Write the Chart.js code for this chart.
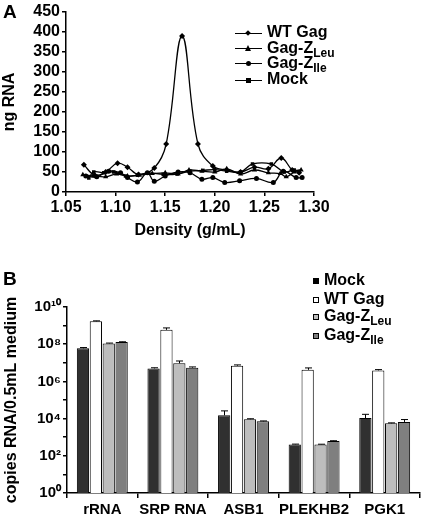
<!DOCTYPE html>
<html>
<head>
<meta charset="utf-8">
<script src="https://cdn.jsdelivr.net/npm/chart.js@4.4.1/dist/chart.umd.min.js"></script>
<style>
  html, body { margin:0; padding:0; background:#fff; }
  body { width:422px; height:517px; position:relative; overflow:hidden;
         font-family:"Liberation Sans", Arial, sans-serif; font-weight:bold; color:#000; }
  canvas { position:absolute; left:0; }
  .panel { position:absolute; font-size:19px; line-height:19px; }
  .row { position:absolute; font-size:16px; line-height:16px; white-space:nowrap; }
  .sub { font-size:12px; position:relative; top:4px; }
  .lineSample { position:absolute; height:0; border-top:1px solid #000; width:27px; }
  .mk { position:absolute; }
  .sq { position:absolute; width:4px; height:4px; border:1px solid #000; }
</style>
</head>
<body>
<canvas id="chartA" width="422" height="250" style="top:0"></canvas>
<canvas id="chartB" width="422" height="267" style="top:250px"></canvas>

<div class="panel" style="left:3px;top:2px">A</div>
<div class="panel" style="left:3px;top:269px">B</div>

<div id="legA"></div>
<div id="legB"></div>

<script>
// ---------- Panel A data ----------
const wtDensity  = [1.068,1.079,1.090,1.102,1.112,1.123,1.139,1.151,1.167,1.183,1.198,1.212,1.226,1.240,1.254,1.267,1.278,1.285];
const wtRNA      = [68,   42,   50,   72,   62,   44,   60,   120,  390,  120,  65,   55,   50,   62,   58,   85,   55,   48];
const leuDensity = [1.067,1.078,1.090,1.101,1.112,1.124,1.137,1.150,1.163,1.174,1.187,1.200,1.212,1.226,1.240,1.254,1.266,1.272,1.280,1.287];
const leuRNA     = [43,   40,   38,   45,   40,   42,   46,   48,   45,   55,   52,   50,   58,   45,   55,   48,   46,   38,   50,   55];
const ileDensity = [1.070,1.081,1.093,1.105,1.112,1.122,1.132,1.139,1.150,1.163,1.175,1.187,1.198,1.210,1.225,1.242,1.259,1.269,1.282,1.288];
const ileRNA     = [40,   38,   52,   48,   36,   25,   48,   27,   40,   50,   48,   32,   36,   24,   28,   34,   24,   52,   36,   36];
const mockDensity= [1.073,1.078,1.088,1.098,1.110,1.122,1.133,1.148,1.162,1.175,1.188,1.200,1.212,1.226,1.238,1.257,1.270,1.280,1.285];
const mockRNA    = [35,   50,   48,   50,   40,   42,   48,   44,   45,   52,   54,   56,   52,   50,   70,   70,   50,   55,   52];
const xTicksA = [1.05,1.10,1.15,1.20,1.25,1.30];
const yTicksA = [0,50,100,150,200,250,300,350,400,450];
const seriesNamesA = ['WT Gag','Gag-Z','Gag-Z','Mock'];
const seriesSubsA  = ['','Leu','Ile',''];

// ---------- Panel B data ----------
const categoriesB = ['rRNA','SRP RNA','ASB1','PLEKHB2','PGK1'];
const mockCopies = [6e7,   5e6,   1.5e4, 410,   1.07e4];
const wtCopies   = [1.7e9, 5.9e8, 7e6,   4.2e6, 3.9e6];
const leuCopies  = [1.1e8, 9.4e6, 9.2e3, 410,   5.6e3];
const ileCopies  = [1.3e8, 5.5e6, 7.1e3, 620,   6.6e3];
const mockErrTop = [6.6e7, 5.4e6, 2.6e4, 425,   1.7e4];
const wtErrTop   = [1.8e9, 7.5e8, 7.7e6, 5.3e6, 4.3e6];
const leuErrTop  = [1.15e8,1.25e7,9.8e3, 420,   5.9e3];
const ileErrTop  = [1.35e8,6e6,   7.5e3, 645,   8.9e3];
const yExpB = [0,1,2,3,4,5,6,7,8,9,10];
const seriesNamesB = ['Mock','WT Gag','Gag-Z','Gag-Z'];
const seriesSubsB  = ['','','Leu','Ile'];

const zip = (xs, ys) => xs.map((x,i) => ({x:x, y:ys[i]}));

Chart.defaults.font.family = '"Liberation Sans", Arial, sans-serif';
Chart.defaults.font.weight = 'bold';
Chart.defaults.color = '#000';

function lineDs(label, pts, style, r) {
  return { label, data: pts, showLine: true, tension: 0.4,
    borderColor:'#000', borderWidth:1.3, backgroundColor:'#000',
    pointStyle: style, pointRadius: r, pointBorderWidth:0, pointBackgroundColor:'#000' };
}

new Chart(document.getElementById('chartA'), {
  type: 'scatter',
  data: { datasets: [
    lineDs('WT Gag', zip(wtDensity, wtRNA), 'rectRot', 3),
    lineDs('Gag-Z Leu', zip(leuDensity, leuRNA), 'triangle', 3),
    lineDs('Gag-Z Ile', zip(ileDensity, ileRNA), 'circle', 2.5),
    lineDs('Mock', zip(mockDensity, mockRNA), 'rect', 2.5)
  ]},
  options: {
    responsive:false, animation:false, devicePixelRatio:1,
    layout:{ padding:{ top:12, right:108, left:0, bottom:0 } },
    plugins:{ legend:{display:false}, tooltip:{enabled:false} },
    scales:{
      x:{ type:'linear', min:1.05, max:1.30,
        afterBuildTicks: s => { s.ticks = xTicksA.map(v => ({value:v})); },
        ticks:{ callback: v => Number(v).toFixed(2), font:{size:16, weight:'bold'}, color:'#000', padding:2, maxRotation:0, autoSkip:false },
        grid:{ display:true, drawOnChartArea:false, drawTicks:true, tickLength:4, color:'#000', lineWidth:1.5 },
        border:{ color:'#000', width:1.5 },
        title:{ display:true, text:'Density (g/mL)', font:{size:16, weight:'bold'}, color:'#000', padding:{top:0, bottom:10} },
        afterFit: s => { s.height = 58; }
      },
      y:{ type:'linear', min:0, max:450,
        afterBuildTicks: s => { s.ticks = yTicksA.map(v => ({value:v})); },
        ticks:{ font:{size:16, weight:'bold'}, color:'#000', padding:2, autoSkip:false },
        grid:{ display:true, drawOnChartArea:false, drawTicks:true, tickLength:4, color:'#000', lineWidth:1.5 },
        border:{ color:'#000', width:1.5 },
        title:{ display:true, text:'ng RNA', font:{size:16, weight:'bold'}, color:'#000', padding:{top:0, bottom:0} },
        afterFit: s => { s.width = 66; }
      }
    }
  }
});

const supDigits = {'0':'\u2070','1':'\u00B9','2':'\u00B2','3':'\u00B3','4':'\u2074','5':'\u2075','6':'\u2076','7':'\u2077','8':'\u2078','9':'\u2079'};
const sup = n => String(n).split('').map(c => supDigits[c]).join('');

const errTops = [mockErrTop, wtErrTop, leuErrTop, ileErrTop];
const errPlugin = {
  id:'errbars',
  afterDatasetsDraw(chart) {
    const ctx = chart.ctx, y = chart.scales.y;
    ctx.save();
    ctx.strokeStyle = '#000'; ctx.lineWidth = 1;
    errTops.forEach((arr, di) => {
      const meta = chart.getDatasetMeta(di);
      meta.data.forEach((bar, i) => {
        const top = y.getPixelForValue(arr[i]);
        const x = Math.round(bar.x) + 0.5;
        ctx.beginPath();
        ctx.moveTo(x, bar.y); ctx.lineTo(x, top);
        ctx.moveTo(x - 3.5, top); ctx.lineTo(x + 3.5, top);
        ctx.stroke();
      });
    });
    ctx.restore();
  }
};

function barDs(label, data, color) {
  return { label, data, backgroundColor: color, borderColor:'#000', borderWidth:1,
    categoryPercentage:0.73, barPercentage:0.95 };
}

new Chart(document.getElementById('chartB'), {
  type:'bar',
  data:{ labels: categoriesB, datasets:[
    barDs('Mock', mockCopies, '#303030'),
    barDs('WT Gag', wtCopies, '#ffffff'),
    barDs('Gag-Z Leu', leuCopies, '#bdbdbd'),
    barDs('Gag-Z Ile', ileCopies, '#7f7f7f')
  ]},
  options:{
    responsive:false, animation:false, devicePixelRatio:1,
    layout:{ padding:{ top:57, right:2, left:0, bottom:0 } },
    plugins:{ legend:{display:false}, tooltip:{enabled:false} },
    scales:{
      x:{ type:'category',
        ticks:{ font:{size:15, weight:'bold'}, color:'#000', padding:3, maxRotation:0, autoSkip:false },
        grid:{ display:true, offset:true, drawOnChartArea:false, drawTicks:true, tickLength:5, color:'#000', lineWidth:1.5 },
        border:{ color:'#000', width:1.5 },
        afterFit: s => { s.height = 24; }
      },
      y:{ type:'logarithmic', min:1, max:1e10,
        afterBuildTicks: s => { s.ticks = yExpB.map(e => ({value: Math.pow(10, e)})); },
        ticks:{ font:{size:15, weight:'bold'}, color:'#000', padding:2, autoSkip:false,
          callback: v => { const e = Math.round(Math.log10(v)); return e % 2 === 0 ? '10' + sup(e) : ''; } },
        grid:{ display:true, drawOnChartArea:false, drawTicks:true, tickLength:4, color:'#000', lineWidth:1.5 },
        border:{ color:'#000', width:1.5 },
        title:{ display:true, text:'copies RNA/0.5mL medium', font:{size:16, weight:'bold'}, color:'#000', padding:{top:2, bottom:0} },
        afterFit: s => { s.width = 67; }
      }
    }
  },
  plugins:[errPlugin]
});

// ---------- Legends (HTML text) ----------
const legA = document.getElementById('legA');
const rowYA = [33, 48.5, 63.5, 80];
const markerHtml = [
  '<div class="mk" style="left:246px;width:4px;height:4px;background:#000;transform:rotate(45deg);"></div>',
  '<div class="mk" style="left:244.5px;width:0;height:0;border-left:3.5px solid transparent;border-right:3.5px solid transparent;border-bottom:6px solid #000;"></div>',
  '<div class="mk" style="left:245.5px;width:5px;height:5px;border-radius:50%;background:#000;"></div>',
  '<div class="mk" style="left:245.5px;width:5px;height:5px;background:#000;"></div>'
];
const mkOff = [2, 3.5, 2.5, 2.5];
seriesNamesA.forEach((name, i) => {
  const cy = rowYA[i];
  legA.insertAdjacentHTML('beforeend',
    '<div class="lineSample" style="left:235px;top:' + (cy - 0.5) + 'px"></div>' +
    markerHtml[i].replace('class="mk" style="', 'class="mk" style="top:' + (cy - mkOff[i]) + 'px;') +
    '<div class="row" style="left:267px;top:' + (cy - 9) + 'px">' + name +
    (seriesSubsA[i] ? '<span class="sub">' + seriesSubsA[i] + '</span>' : '') + '</div>');
});

const legB = document.getElementById('legB');
const rowYB = [280.5, 300, 317, 336];
const fillsB = ['#000', '#fff', '#bdbdbd', '#7f7f7f'];
seriesNamesB.forEach((name, i) => {
  const cy = rowYB[i];
  legB.insertAdjacentHTML('beforeend',
    '<div class="sq" style="left:313px;top:' + (cy - 3) + 'px;background:' + fillsB[i] + '"></div>' +
    '<div class="row" style="left:324px;top:' + (cy - 9) + 'px">' + name +
    (seriesSubsB[i] ? '<span class="sub">' + seriesSubsB[i] + '</span>' : '') + '</div>');
});
</script>
</body>
</html>
